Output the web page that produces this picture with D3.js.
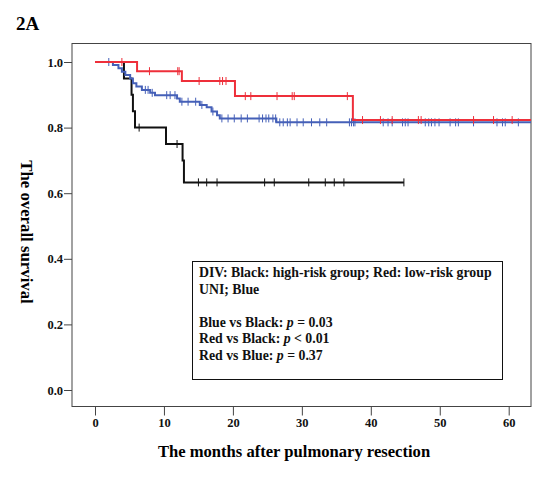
<!DOCTYPE html>
<html>
<head>
<meta charset="utf-8">
<script src="https://cdn.jsdelivr.net/npm/d3@7"></script>
<style>
  body { margin: 0; background: #fff; }
  text { font-family: "Liberation Serif", "Times New Roman", serif; font-weight: bold; }
</style>
</head>
<body>
<div id="chart"></div>
<script>
// Kaplan-Meier steps: [months, survival]
var blackSteps = [[0, 1.0], [4.2, 0.95], [5.3, 0.90], [5.5, 0.85], [5.8, 0.80], [10.3, 0.75], [12.7, 0.70], [12.9, 0.633]];
var blackEnd = 44.8;
var blackCensor = [6.4, 11.9, 15.0, 16.2, 17.7, 24.6, 26.0, 31.0, 33.4, 34.7, 36.1, 44.8];

var blueSteps = [[0, 1.0], [2.6, 0.991], [3.4, 0.981], [3.9, 0.970], [4.4, 0.960], [5.1, 0.950], [5.5, 0.935],
  [6.0, 0.925], [6.8, 0.915], [8.0, 0.906], [8.7, 0.899], [11.9, 0.889], [12.3, 0.879], [15.2, 0.869],
  [16.2, 0.862], [16.9, 0.849], [17.7, 0.838], [18.1, 0.828], [26.3, 0.816]];
var blueEnd = 70;
var blueCensor = [2.0, 7.3, 7.7, 8.3, 10.4, 10.9, 11.6, 12.6, 13.5, 14.6, 15.5, 17.1, 18.4, 19.3, 20.2, 21.2, 22.1,
  23.8, 24.3, 24.8, 25.2, 25.8, 26.2, 26.8, 27.3, 27.9, 28.3, 29.3, 30.2, 31.4, 32.6, 33.6, 36.9, 37.2, 37.5, 37.7,
  41.8, 42.5, 43.1, 44.6, 45.0, 45.4, 47.9, 48.4, 48.8, 49.3, 49.9, 51.5, 52.3, 52.7, 54.9, 58.3, 59.1, 59.5, 61.4];

var redSteps = [[0, 1.0], [6.1, 0.972], [12.6, 0.942], [20.3, 0.896], [37.4, 0.823]];
var redEnd = 70;
var redCensor = [3.9, 7.9, 12.0, 12.2, 15.1, 18.1, 18.5, 19.0, 21.8, 22.6, 26.4, 28.6, 28.9, 36.6, 38.8, 41.4,
  43.1, 46.9, 47.3, 54.9, 57.8, 60.5];

var xTicks = [0, 10, 20, 30, 40, 50, 60];
var yTicks = [0, 0.2, 0.4, 0.6, 0.8, 1.0];

var legendLines = [
  [{t: "DIV: Black: high-risk group; Red: low-risk group"}],
  [{t: "UNI; Blue"}],
  [],
  [{t: "Blue vs Black: "}, {t: "p", i: true}, {t: " = 0.03"}],
  [{t: "Red vs Black: "}, {t: "p", i: true}, {t: " < 0.01"}],
  [{t: "Red vs Blue: "}, {t: "p", i: true}, {t: " = 0.37"}]
];

var width = 549, height = 482;
var frame = {left: 72, right: 531, top: 43.5, bottom: 406.5};

var svg = d3.select("#chart").append("svg")
  .attr("width", width)
  .attr("height", height);

var x = d3.scaleLinear().domain([0, 60]).range([95, 508.7]);
var y = d3.scaleLinear().domain([0, 1]).range([390, 62]);

// clip to the plot frame
svg.append("clipPath").attr("id", "clip")
  .append("rect")
    .attr("x", frame.left).attr("y", frame.top)
    .attr("width", frame.right - frame.left).attr("height", frame.bottom - frame.top);

// panel label
svg.append("text")
  .attr("x", 16).attr("y", 30)
  .attr("font-size", 19)
  .text("2A");

// axes
var yAxis = svg.append("g")
  .attr("transform", "translate(" + frame.left + ",0)")
  .call(d3.axisLeft(y).tickValues(yTicks).tickFormat(d3.format(".1f")).tickSize(8).tickPadding(1));
var xAxis = svg.append("g")
  .attr("transform", "translate(0," + frame.bottom + ")")
  .call(d3.axisBottom(x).tickValues(xTicks).tickFormat(d3.format("d")).tickSize(9).tickPadding(3));

[yAxis, xAxis].forEach(function(a) {
  a.select(".domain").remove();
  a.selectAll("line").attr("stroke", "#444");
  a.selectAll("text").attr("font-size", 12.5).attr("fill", "#111")
    .attr("font-family", "Liberation Serif").attr("font-weight", "bold");
});

// frame
svg.append("rect")
  .attr("x", frame.left).attr("y", frame.top)
  .attr("width", frame.right - frame.left).attr("height", frame.bottom - frame.top)
  .attr("fill", "none").attr("stroke", "#444").attr("stroke-width", 1);

// axis titles
svg.append("text")
  .attr("x", 294).attr("y", 457)
  .attr("text-anchor", "middle")
  .attr("font-size", 16.6)
  .text("The months after pulmonary resection");

svg.append("text")
  .attr("transform", "translate(21,232) rotate(90)")
  .attr("text-anchor", "middle")
  .attr("font-size", 16.8)
  .text("The overall survival");

// survival at time t for a step list
function survAt(steps, t) {
  var s = steps[0][1];
  for (var i = 0; i < steps.length; i++)
    if (steps[i][0] <= t) s = steps[i][1];
  return s;
}

var line = d3.line()
  .x(function(d) { return x(d[0]); })
  .y(function(d) { return y(d[1]); })
  .curve(d3.curveStepAfter);

var plot = svg.append("g").attr("clip-path", "url(#clip)");

function drawCurve(steps, end, censor, color, width) {
  var pts = steps.concat([[end, steps[steps.length - 1][1]]]);
  plot.append("path")
    .attr("d", line(pts))
    .attr("fill", "none")
    .attr("stroke", color)
    .attr("stroke-width", width);
  plot.append("g").selectAll("line")
    .data(censor)
    .enter().append("line")
      .attr("x1", function(d) { return x(d); })
      .attr("x2", function(d) { return x(d); })
      .attr("y1", function(d) { return y(survAt(steps, d)) - 4; })
      .attr("y2", function(d) { return y(survAt(steps, d)) + 4; })
      .attr("stroke", color)
      .attr("stroke-width", 1);
}

drawCurve(blackSteps, blackEnd, blackCensor, "#111", 2);
drawCurve(blueSteps, blueEnd, blueCensor, "#4560b8", 2);
drawCurve(redSteps, redEnd, redCensor, "#ee2f3a", 2);

// legend box
svg.append("rect")
  .attr("x", 192.5).attr("y", 261.5)
  .attr("width", 310).attr("height", 118)
  .attr("fill", "#fff").attr("stroke", "#111").attr("stroke-width", 1);

var lineY = [277, 294, 310, 327, 343, 360];
var legend = svg.append("g");
legendLines.forEach(function(parts, i) {
  if (!parts.length) return;
  var t = legend.append("text")
    .attr("x", 199).attr("y", lineY[i])
    .attr("font-size", 13.8)
    .attr("fill", "#111");
  parts.forEach(function(p) {
    t.append("tspan")
      .attr("font-style", p.i ? "italic" : null)
      .text(p.t);
  });
});
</script>
</body>
</html>
